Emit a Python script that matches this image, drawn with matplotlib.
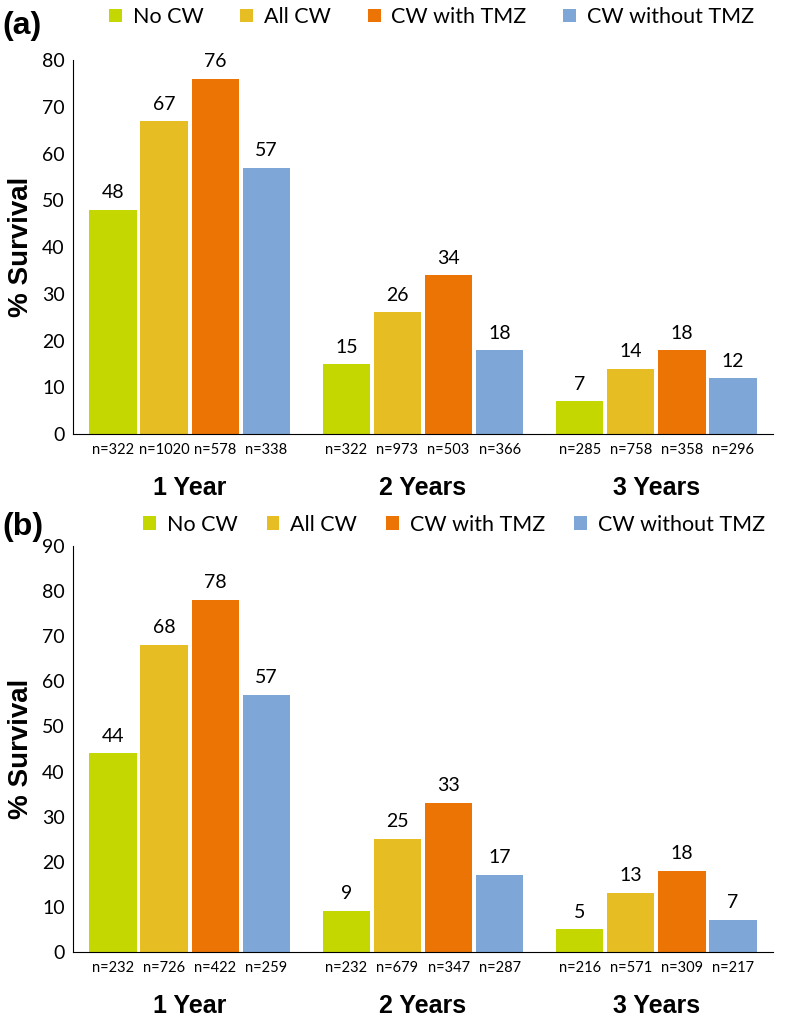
import matplotlib.pyplot as plt
import numpy as np

# data
groups = ['1 Year', '2 Years', '3 Years']
series = ['No CW', 'All CW', 'CW with TMZ', 'CW without TMZ']
colors = ['#C4D700', '#E6BD22', '#EB7405', '#7EA7D8']

surv_a = [[48, 15, 7], [67, 26, 14], [76, 34, 18], [57, 18, 12]]
n_a = [[322, 322, 285], [1020, 973, 758], [578, 503, 358], [338, 366, 296]]

surv_b = [[44, 9, 5], [68, 25, 13], [78, 33, 18], [57, 17, 7]]
n_b = [[232, 232, 216], [726, 679, 571], [422, 347, 309], [259, 287, 217]]

plt.rcParams['font.family'] = ['Lato', 'DejaVu Sans']


def panel(ax, surv, n, ymax, leg_x, leg_y, colsp):
    x = np.arange(len(groups))
    pitch = 0.219
    width = 0.203
    handles = []
    for i, s in enumerate(series):
        xs = x + (i - 1.5) * pitch
        b = ax.bar(xs, surv[i], width=width, color=colors[i], label=s)
        handles.append(b)
        for xi, v, nn in zip(xs, surv[i], n[i]):
            ax.text(xi, v + ymax * 0.022, str(v), ha='center', va='bottom', fontsize=14)
            ax.annotate('n=%d' % nn, xy=(xi, 0), xytext=(0, -11.5), textcoords='offset points',
                        ha='center', va='center', fontsize=10.5)
    for xi, g in zip(x, groups):
        ax.annotate(g, xy=(xi, 0), xytext=(0, -39), textcoords='offset points',
                    ha='center', va='center', fontsize=18, fontweight='bold',
                    family='Liberation Sans')
    ax.set_xlim(-0.5, 2.5)
    ax.set_ylim(0, ymax)
    ax.set_yticks(np.arange(0, ymax + 1, 10))
    ax.tick_params(axis='y', length=0, labelsize=14, pad=6)
    ax.set_xticks([])
    for sp in ['top', 'right']:
        ax.spines[sp].set_visible(False)
    ax.set_ylabel('% Survival', fontsize=20, fontweight='bold',
                  family='Liberation Sans', labelpad=6)
    ax.legend(handles=handles, ncol=4, loc='center left', bbox_to_anchor=(leg_x, leg_y),
              frameon=False, fontsize=15.5, handlelength=0.6, handleheight=0.6,
              handletextpad=0.5, columnspacing=colsp, borderaxespad=0, borderpad=0)


fig = plt.figure(figsize=(7.86, 10.22), dpi=100)
ax1 = fig.add_axes([0.0929, 0.5753, 0.8906, 0.366])
ax2 = fig.add_axes([0.0929, 0.0685, 0.8906, 0.3973])
panel(ax1, surv_a, n_a, 80, 0.052, 1.115, 1.7)
panel(ax2, surv_b, n_b, 90, 0.10, 1.052, 1.35)
fig.text(0.003, 0.975, '(a)', fontsize=23, fontweight='bold', family='Liberation Sans', va='center')
fig.text(0.003, 0.484, '(b)', fontsize=23, fontweight='bold', family='Liberation Sans', va='center')

fig.savefig('out.png', dpi=100)
